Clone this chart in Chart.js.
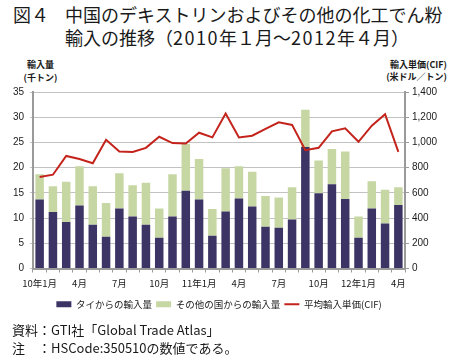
<!DOCTYPE html>
<html><head><meta charset="utf-8">
<script src="https://cdn.jsdelivr.net/npm/chart.js@4"></script>
<style>
body{margin:0;background:#fff;width:455px;height:361px;overflow:hidden;position:relative;font-family:"Noto Sans CJK JP",sans-serif;color:#1a1a1a}
.t{position:absolute;white-space:nowrap}
</style></head><body>
<div class="t" style="left:13px;top:3px;font-size:18px;line-height:23px">図４</div>
<div class="t" style="left:65px;top:3px;font-size:18px;line-height:23px">中国のデキストリンおよびその他の化工でん粉<br>輸入の推移（<span style="letter-spacing:1.5px">2010</span>年１月～<span style="letter-spacing:1.5px">2012</span>年４月）</div>
<div class="t" style="left:20px;width:41px;text-align:center;top:59px;font-size:9px;line-height:12px;font-weight:bold">輸入量</div>
<div class="t" style="left:20px;width:41px;text-align:center;top:72px;font-size:9px;line-height:12px;font-weight:bold">(千トン)</div>
<div class="t" style="right:8px;top:59px;font-size:9px;line-height:12px;font-weight:bold">輸入単価(CIF)</div>
<div class="t" style="right:8px;top:71px;font-size:9px;line-height:12px;font-weight:bold">(米ドル／トン)</div>
<canvas id="c" width="455" height="321" style="position:absolute;left:0;top:0"></canvas>
<div class="t" style="left:12px;top:321px;font-size:13px;line-height:18px">資料：GTI社「Global Trade Atlas」</div>
<div class="t" style="left:12px;top:339px;font-size:13px;line-height:18px">注　：HSCode:350510の数値である。</div>
<script>
const months = ['10年1月','','','4月','','','7月','','','10月','','','11年1月','','','4月','','','7月','','','10月','','','12年1月','','','4月'];
const thaiImports = [13.7, 11.2, 9.2, 12.5, 8.7, 6.3, 11.9, 10.3, 8.7, 6.1, 10.3, 15.4, 13.7, 6.5, 11.3, 13.9, 12.3, 8.3, 8.1, 9.7, 24.1, 14.9, 16.7, 13.8, 6.1, 11.9, 8.9, 12.6];
const otherImports = [5.0, 5.1, 8.0, 7.8, 7.6, 6.7, 7.0, 6.2, 8.3, 5.8, 8.4, 9.3, 8.0, 5.3, 8.6, 6.4, 6.9, 6.1, 6.0, 6.4, 7.4, 6.5, 7.0, 9.4, 4.2, 5.4, 6.7, 3.5];
const avgPrice = [725, 744, 893, 869, 835, 1021, 928, 925, 957, 1045, 995, 992, 1077, 1040, 1229, 1040, 1053, 1107, 1160, 1139, 939, 957, 1088, 1112, 1005, 1133, 1224, 925];
const leftTicks = [0, 5, 10, 15, 20, 25, 30, 35];
const rightTicks = [0, 200, 400, 600, 800, 1000, 1200, 1400];

const tickFont = {family: '"Liberation Sans", "Noto Sans CJK JP", sans-serif', size: 10};
const cjkFont = {family: '"Noto Sans CJK JP", sans-serif', size: 9.5};

new Chart(document.getElementById('c'), {
  type: 'bar',
  data: {
    labels: months,
    datasets: [
      {label: 'タイからの輸入量', data: thaiImports, backgroundColor: '#3b3464', borderWidth: 0, yAxisID: 'y', stack: 's', order: 1, pointStyle: 'rect', barPercentage: 0.64, categoryPercentage: 1},
      {label: 'その他の国からの輸入量', data: otherImports, backgroundColor: '#c7d7a4', borderWidth: 0, yAxisID: 'y', stack: 's', order: 1, pointStyle: 'rect', barPercentage: 0.64, categoryPercentage: 1},
      {type: 'line', label: '平均輸入単価(CIF)', data: avgPrice, borderColor: '#c4231c', backgroundColor: '#c4231c', borderWidth: 2, pointRadius: 0, tension: 0, yAxisID: 'y1', order: 0, pointStyle: 'line'}
    ]
  },
  options: {
    responsive: false,
    animation: false,
    layout: {padding: {top: 92, bottom: 2, left: 0, right: 0}},
    plugins: {
      tooltip: {enabled: false},
      legend: {
        position: 'bottom',
        fullSize: false,
        labels: {
          usePointStyle: true, pointStyleWidth: 15, boxHeight: 6, padding: 4,
          color: '#1a1a1a', font: cjkFont,
          sort: (a, b) => a.datasetIndex - b.datasetIndex
        }
      }
    },
    scales: {
      x: {
        stacked: true,
        offset: true,
        grid: {display: true, drawOnChartArea: false, drawTicks: true, tickLength: 4, color: '#9a9a9a', offset: true},
        border: {display: true, color: '#9a9a9a', width: 2},
        ticks: {autoSkip: false, maxRotation: 0, minRotation: 0, padding: 5, color: '#1a1a1a', font: cjkFont},
        afterFit: s => { s.height = 27; }
      },
      y: {
        stacked: true,
        position: 'left',
        min: 0, max: 35,
        afterBuildTicks: s => { s.ticks = leftTicks.map(v => ({value: v})); },
        grid: {color: '#c2c2c2', tickLength: 3, drawTicks: true},
        border: {display: true, color: '#9a9a9a', width: 2},
        ticks: {padding: 6, color: '#1a1a1a', font: tickFont},
        afterFit: s => { s.width = 33; }
      },
      y1: {
        position: 'right',
        min: 0, max: 1400,
        afterBuildTicks: s => { s.ticks = rightTicks.map(v => ({value: v})); },
        grid: {drawOnChartArea: false, tickLength: 4, color: '#9a9a9a'},
        border: {display: true, color: '#9a9a9a', width: 2},
        ticks: {padding: 3, color: '#1a1a1a', font: tickFont, callback: v => v.toLocaleString('en-US')},
        afterFit: s => { s.width = 50; }
      }
    }
  }
});
</script>
</body></html>
